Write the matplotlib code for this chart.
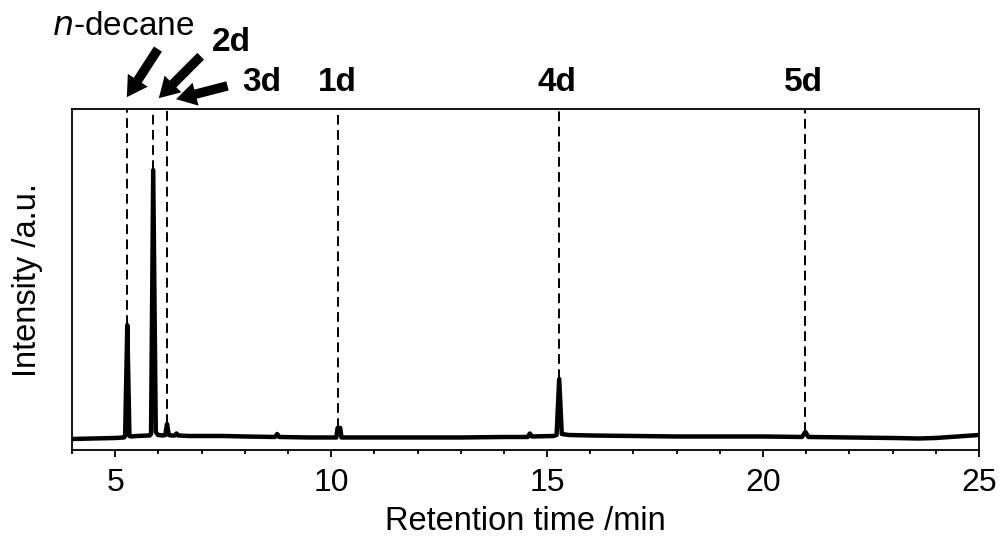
import matplotlib
matplotlib.use("Agg")
import matplotlib.pyplot as plt

plt.rcParams['font.family'] = ['Liberation Sans', 'DejaVu Sans']

# chromatogram trace (retention time in min, detector signal in a.u.)
time = [4.0, 4.5, 5.0, 5.2, 5.23, 5.28, 5.33, 5.37, 5.5, 5.8, 5.83, 5.88, 5.94, 5.99,
        6.1, 6.16, 6.2, 6.24, 6.3, 6.38, 6.42, 6.46, 6.7, 7.0, 7.5, 8.0, 8.7, 8.75,
        8.8, 9.5, 10.12, 10.15, 10.21, 10.24, 11.0, 12.0, 13.0, 14.0, 14.55, 14.6,
        14.65, 15.15, 15.22, 15.28, 15.34, 15.5, 16.0, 17.0, 18.0, 19.0, 20.0, 20.9,
        20.98, 21.05, 22.0, 23.0, 23.6, 24.0, 24.5, 25.0]
intensity = [11, 11.5, 12, 12.5, 14, 125, 14, 13.5, 14, 14.5, 16, 280, 18, 15,
             14.5, 15, 26, 15, 14.5, 14.5, 16.5, 14.5, 14, 14, 14, 13.5, 13, 16,
             13, 12.5, 12.5, 22, 22, 12.5, 12.5, 12.5, 12.5, 13, 13, 16.5,
             13.5, 14, 15, 71, 16, 15, 14.5, 14, 13.5, 13.5, 13.5, 13,
             18, 13, 12.5, 12, 11.5, 12, 13.5, 15]

# labelled peaks
peak_names = ["n-decane", "2d", "3d", "1d", "4d", "5d"]
peak_rt = [5.28, 5.88, 6.2, 10.16, 15.28, 20.98]
peak_top = [125, 280, 26, 22, 71, 18]

fig = plt.figure(figsize=(10, 5.4), dpi=100)
ax = fig.add_axes([0.072, 0.1667, 0.907, 0.6313])

ax.plot(time, intensity, color='black', lw=3.2, solid_joinstyle='round')
for rt, top in zip(peak_rt, peak_top):
    ax.plot([rt, rt], [top, 341], color='black', lw=1.4, dashes=(5, 2.8))

ax.set_xlim(4, 25)
ax.set_ylim(0, 341)
ax.set_xticks([5, 10, 15, 20, 25])
ax.set_xticks(range(4, 26), minor=True)
ax.set_yticks([])
ax.tick_params(axis='x', which='major', direction='out', length=5, width=1.3,
               labelsize=23, pad=8)
ax.tick_params(axis='x', which='minor', direction='out', length=3, width=1.3)
for s in ax.spines.values():
    s.set_linewidth(1.3)

ax.set_xlabel("Retention time /min", fontsize=23.5, labelpad=6)
ax.set_ylabel("Intensity /a.u.", fontsize=23.5, labelpad=21)

xtrans = ax.get_xaxis_transform()
ax.text(peak_rt[0] - 0.1, 1.243, "$\\it{n}$-decane", transform=xtrans,
        ha='center', va='center', fontsize=24)
ax.text(7.68, 1.194, peak_names[1], transform=xtrans,
        ha='center', va='center', fontsize=24, fontweight='bold')
for name, x in zip(peak_names[2:], [8.40, 10.14, 15.23, 20.93]):
    ax.text(x, 1.079, name, transform=xtrans,
            ha='center', va='center', fontsize=24, fontweight='bold')

blend = ('data', 'axes fraction')
arrow = dict(arrowstyle='simple,head_length=0.85,head_width=1.0,tail_width=0.4',
             color='black', lw=0, mutation_scale=17, shrinkA=0, shrinkB=0)
ax.annotate("", xy=(5.27, 1.035), xytext=(5.99, 1.176), xycoords=blend,
            textcoords=blend, arrowprops=arrow, annotation_clip=False)
ax.annotate("", xy=(6.01, 1.032), xytext=(6.98, 1.155), xycoords=blend,
            textcoords=blend, arrowprops=arrow, annotation_clip=False)
ax.annotate("", xy=(6.41, 1.029), xytext=(7.6, 1.068), xycoords=blend,
            textcoords=blend, arrowprops=arrow, annotation_clip=False)

fig.savefig("out.png", dpi=100)
